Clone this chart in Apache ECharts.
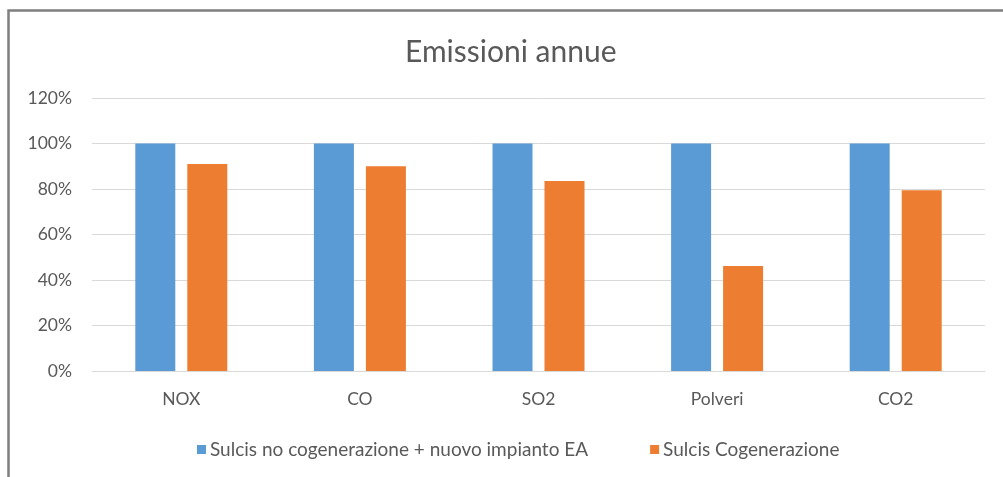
<!DOCTYPE html>
<html>
<head>
<meta charset="utf-8">
<script src="https://cdn.jsdelivr.net/npm/echarts@6/dist/echarts.min.js"></script>
<style>html,body{margin:0;padding:0;background:#fff;}#c{width:1003px;height:477px;}</style>
</head>
<body>
<div id="c"></div>
<script>
const categories = ['NOX', 'CO', 'SO2', 'Polveri', 'CO2'];
const seriesNames = ['Sulcis no cogenerazione + nuovo impianto EA', 'Sulcis Cogenerazione'];
const noCogenerazione = [100, 100, 100, 100, 100];
const cogenerazione = [91, 90, 83.5, 46.2, 79.5];
const yTicks = [0, 20, 40, 60, 80, 100, 120];

const chart = echarts.init(document.getElementById('c'), null, {renderer: 'canvas'});
const font = 'Lato, "Open Sans", sans-serif';
chart.setOption({
  animation: false,
  backgroundColor: '#fff',
  title: {
    text: 'Emissioni annue', left: 400, top: 32,
    textStyle: {fontFamily: font, fontSize: 30, fontWeight: 'normal', color: '#595959'}
  },
  grid: {left: 92, right: 18, top: 98, bottom: 106},
  legend: {
    left: 192, top: 435, itemWidth: 9, itemHeight: 9, itemGap: 62,
    icon: 'rect',
    textStyle: {fontFamily: font, fontSize: 19, color: '#595959', padding: [0, 0, 0, -1]},
    data: seriesNames
  },
  xAxis: {
    type: 'category', data: categories,
    axisLine: {lineStyle: {color: '#D9D9D9'}}, axisTick: {show: false},
    axisLabel: {fontFamily: font, fontSize: 17.5, color: '#595959', margin: 19}
  },
  yAxis: {
    type: 'value', min: yTicks[0], max: yTicks[yTicks.length - 1], interval: 20,
    axisLine: {show: false}, axisTick: {show: false},
    axisLabel: {fontFamily: font, fontSize: 17.5, color: '#595959', margin: 20, formatter: v => v + '%'},
    splitLine: {lineStyle: {color: '#D9D9D9', width: 1}}
  },
  series: [
    {name: seriesNames[0], type: 'bar', data: noCogenerazione, barWidth: 40, barGap: '30%',
     itemStyle: {color: '#5B9BD5'}},
    {name: seriesNames[1], type: 'bar', data: cogenerazione, barWidth: 40, barGap: '30%',
     itemStyle: {color: '#ED7D31'}}
  ],
  graphic: [
    {type: 'polyline', silent: true, shape: {points: [[8.5, 477], [8.5, 10.5], [1003, 10.5]]},
     style: {stroke: '#7F7F7F', lineWidth: 2.5, fill: null}}
  ]
});
</script>
</body>
</html>
